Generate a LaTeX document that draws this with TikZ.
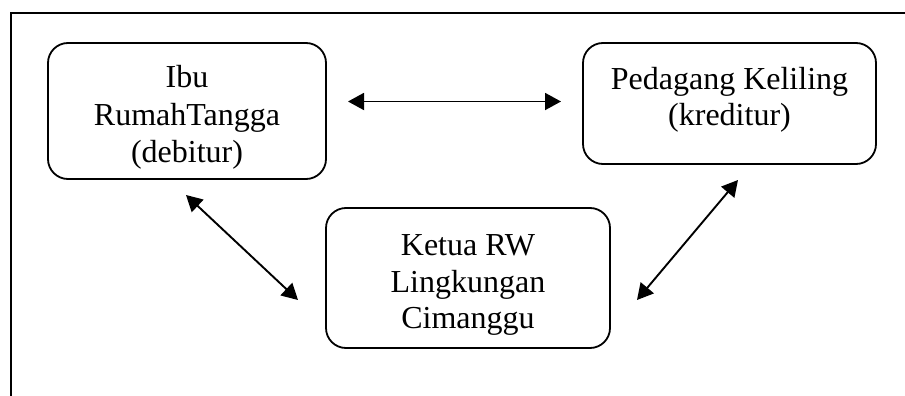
\documentclass[tikz,border=0pt]{standalone}
\usepackage{fontspec}
\setmainfont{Liberation Serif}
\usetikzlibrary{arrows.meta}
\begin{document}
\begin{tikzpicture}[x=1pt,y=-1pt,
  boxstyle/.style={draw,line width=1.8pt,rounded corners=20pt,rectangle,inner sep=0pt},
  linestyle/.style={inner sep=0pt,anchor=base,font=\fontsize{32}{36}\selectfont},
  dblarrow/.style={line width=1.9pt,{Triangle[length=16pt,width=17pt]}-{Triangle[length=16pt,width=17pt]}}]
\useasboundingbox (0,0) rectangle (905,396);
\draw[line width=1.8pt] (11,396) -- (11,13) -- (905,13);
% boxes
\node[boxstyle,minimum width=278pt,minimum height=136pt] (b1) at (187,111) {};
\node[boxstyle,minimum width=293pt,minimum height=121pt] (b2) at (729.5,103.5) {};
\node[boxstyle,minimum width=284pt,minimum height=140pt] (b3) at (468,278) {};
% texts
\node[linestyle] (t1a) at (187,88) {Ibu};
\node[linestyle] (t1b) at (187,125) {RumahTangga};
\node[linestyle] (t1c) at (187,162) {(debitur)};
\node[linestyle] (t2a) at (729.5,89) {Pedagang Keliling};
\node[linestyle] (t2b) at (729.5,125) {(kreditur)};
\node[linestyle] (t3a) at (468,255) {Ketua RW};
\node[linestyle] (t3b) at (468,292) {Lingkungan};
\node[linestyle] (t3c) at (468,328) {Cimanggu};
% arrow ends
\coordinate (h1) at (348,101.5);
\coordinate (h2) at (561,101.5);
\coordinate (d1a) at (186,195);
\coordinate (d1b) at (298,300);
\coordinate (d2a) at (738,180);
\coordinate (d2b) at (637,300);
\draw[dblarrow] (h1) -- (h2);
\draw[dblarrow] (d1a) -- (d1b);
\draw[dblarrow] (d2a) -- (d2b);
\end{tikzpicture}
\end{document}
